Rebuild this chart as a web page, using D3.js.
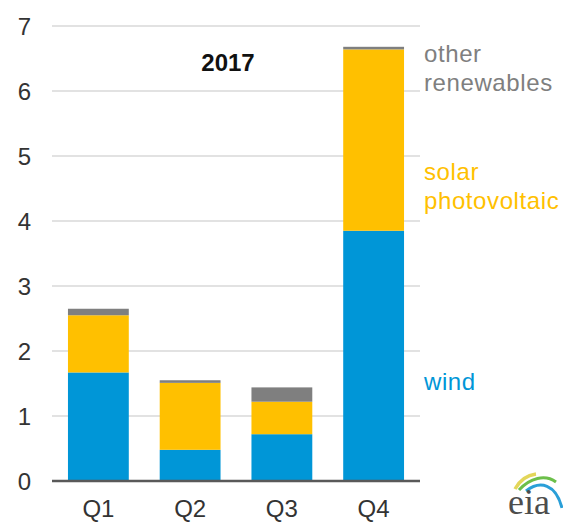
<!DOCTYPE html>
<html><head><meta charset="utf-8">
<script src="https://cdn.jsdelivr.net/npm/d3@7"></script>
<style>body{margin:0;background:#fff}svg{display:block}</style>
</head><body>
<svg id="c" width="563" height="523"></svg>
<script>
const categories = ["Q1","Q2","Q3","Q4"];
const wind  = [1.67, 0.48, 0.72, 3.85];
const solar = [0.88, 1.03, 0.50, 2.79];
const other = [0.10, 0.04, 0.22, 0.04];
const yTicks = [0,1,2,3,4,5,6,7];
const seriesNames = ["wind","solar","other"];
const title = "2017";

const svg = d3.select("#c");
const font = "'Liberation Sans', Arial, sans-serif";
const x = d3.scaleBand().domain(categories).range([52,420]).paddingInner(0.337).paddingOuter(0.174);
const y = d3.scaleLinear().domain([0,7]).range([481,26]);
const colors = {wind:"#0096d7", solar:"#ffc000", other:"#7f7f7f"};

// gridlines
svg.append("g").selectAll("line").data(yTicks.filter(d=>d>0)).join("line")
  .attr("x1",52).attr("x2",420).attr("y1",d=>y(d)).attr("y2",d=>y(d))
  .attr("stroke","#d9d9d9").attr("stroke-width",1.5);

// y axis labels
const yAxis = d3.axisLeft(y).tickValues(yTicks).tickSize(0).tickPadding(0).tickFormat(d3.format("d"));
const ya = svg.append("g").attr("transform","translate(31,0)").call(yAxis);
ya.select(".domain").remove();
ya.selectAll("text").attr("font-family",font).attr("font-size",24).attr("fill","#333").attr("dy","0.35em");

// stacked bars
const table = categories.map((c,i)=>({cat:c, wind:wind[i], solar:solar[i], other:other[i]}));
const stack = d3.stack().keys(seriesNames)(table);
svg.append("g").selectAll("g").data(stack).join("g").attr("fill",d=>colors[d.key])
  .selectAll("rect").data(d=>d).join("rect")
  .attr("x",d=>x(d.data.cat)).attr("width",x.bandwidth())
  .attr("y",d=>y(d[1])).attr("height",d=>y(d[0])-y(d[1]));

// x axis
const xAxis = d3.axisBottom(x).tickSize(0).tickPadding(0);
const xa = svg.append("g").attr("transform","translate(0,481)").call(xAxis);
xa.select(".domain").attr("stroke","#595959").attr("stroke-width",2.5).attr("d","M52,0H420");
xa.selectAll("text").attr("font-family",font).attr("font-size",24).attr("fill","#333").attr("dy","1.5em");

// title
svg.append("text").attr("x",228).attr("y",71).attr("text-anchor","middle")
  .attr("font-family",font).attr("font-size",24).attr("font-weight","bold").attr("fill","#111").text(title);

// legend labels
const legend = [
  {lines:["other","renewables"], key:"other", y:62},
  {lines:["solar","photovoltaic"], key:"solar", y:180},
  {lines:["wind"], key:"wind", y:390}
];
legend.forEach(l=>{
  const t = svg.append("text").attr("x",424).attr("y",l.y).attr("font-family",font)
    .attr("font-size",24).attr("letter-spacing","0.6px").attr("fill", colors[l.key]);
  l.lines.forEach((s,i)=>t.append("tspan").attr("x",424).attr("dy",i?29:0).text(s));
});

// eia logo
const lg = svg.append("g");
lg.append("path").attr("d","M515,489 C520,480 528,475 536,474").attr("fill","none").attr("stroke","#e3d65a").attr("stroke-width",3.5);
lg.append("path").attr("d","M519,490 C530,478 545,474 556,482").attr("fill","none").attr("stroke","#6cbf4a").attr("stroke-width",3);
lg.append("path").attr("d","M526,491 C540,480 556,484 562,508").attr("fill","none").attr("stroke","#2a9fd8").attr("stroke-width",3);
lg.append("text").attr("x",508).attr("y",514).attr("font-family","'Liberation Serif','DejaVu Serif',serif")
  .attr("font-size",36).attr("fill","#4d4d4d").text("eia");
</script>
</body></html>
